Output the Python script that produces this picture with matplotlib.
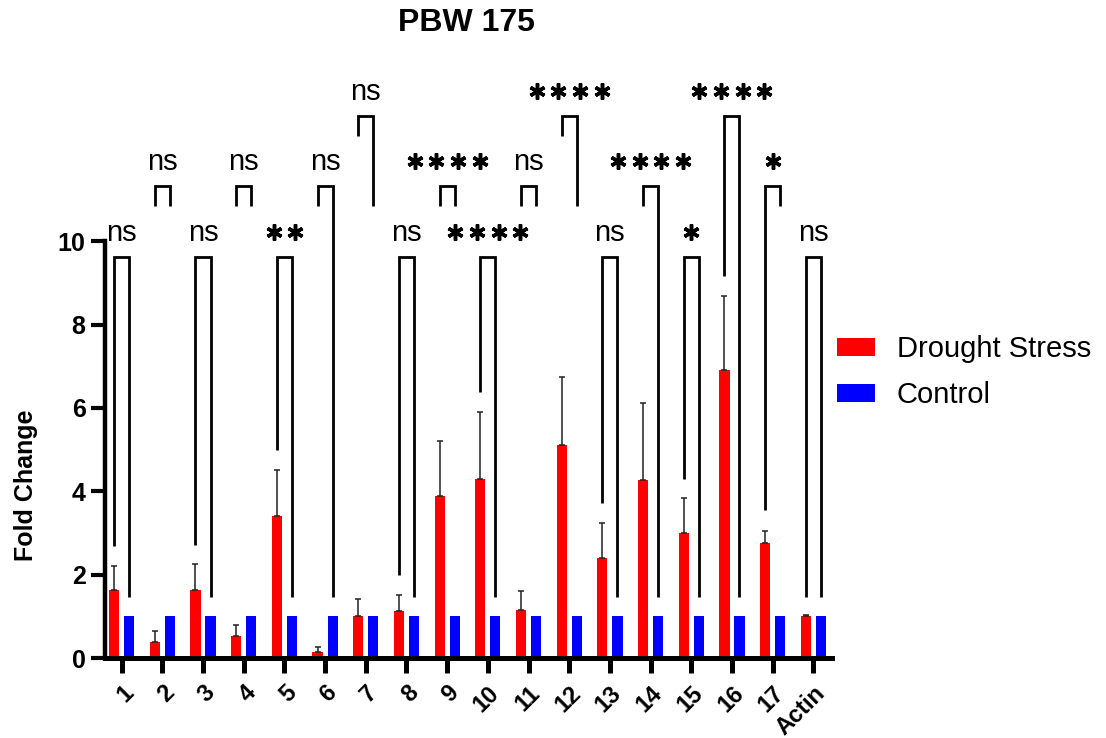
import numpy as np
import matplotlib
matplotlib.use('Agg')
import matplotlib.pyplot as plt
from matplotlib.patches import Patch

plt.rcParams['font.family'] = ['Liberation Sans', 'DejaVu Sans']

# Datos
genes = ['1', '2', '3', '4', '5', '6', '7', '8', '9', '10', '11', '12',
         '13', '14', '15', '16', '17', 'Actin']
drought = [1.62, 0.38, 1.62, 0.53, 3.40, 0.15, 1.01, 1.13, 3.89, 4.30,
           1.16, 5.11, 2.41, 4.28, 3.00, 6.92, 2.76, 1.00]
drought_err = [0.59, 0.27, 0.64, 0.25, 1.12, 0.11, 0.41, 0.38, 1.32, 1.60,
               0.44, 1.64, 0.82, 1.84, 0.83, 1.76, 0.29, 0.02]
control = [1.0] * 18

# Significancia y corchetes (altura del corchete, fin de cada pata)
signif = ['ns', 'ns', 'ns', 'ns', '**', 'ns', 'ns', 'ns', '****', '****',
          'ns', '****', 'ns', '****', '*', '****', '*', 'ns']
bracket_top = [9.62, 11.32, 9.62, 11.32, 9.62, 11.32, 13.0, 9.62, 11.32,
               9.62, 11.32, 13.0, 9.62, 11.32, 9.62, 13.0, 11.32, 9.62]
leg_left = [2.69, 10.85, 2.70, 10.85, 4.98, 10.85, 12.53, 1.98, 10.85,
            6.38, 10.85, 12.53, 3.72, 10.85, 4.30, 9.17, 3.56, 1.47]
leg_right = [1.47, 10.85, 1.47, 10.85, 1.47, 1.47, 10.85, 1.47, 10.85,
             1.47, 10.85, 10.85, 1.47, 1.47, 1.47, 1.47, 10.85, 1.47]

RED = '#FF0000'
BLUE = '#0000FF'
off = 0.185
width = 0.25

fig = plt.figure(figsize=(11.06, 7.38), dpi=100)
ax = fig.add_axes([0.0949, 0.1084, 0.6574, 0.7906])

x = np.arange(len(genes))
err_lo = np.zeros(len(genes))
ax.bar(x - off, drought, width, color=RED, linewidth=0, zorder=2)
ax.errorbar(x - off, drought, yerr=[err_lo, drought_err], fmt='none',
            ecolor='#222222', elinewidth=1.1, capsize=2.5, capthick=1.1, zorder=3)
ax.bar(x + off, control, width, color=BLUE, linewidth=0, zorder=2)

# Corchetes de comparacion
for i in range(len(genes)):
    xl, xr = x[i] - off, x[i] + off
    top = bracket_top[i]
    ax.plot([xl, xl, xr, xr], [leg_left[i], top, top, leg_right[i]],
            color='black', linewidth=2.0, solid_joinstyle='miter',
            solid_capstyle='butt', clip_on=False, zorder=4)
    xc = x[i]
    if signif[i] == 'ns':
        ax.text(xc, top + 0.38, 'ns', ha='center', va='baseline',
                fontsize=21, clip_on=False)
    else:
        n = len(signif[i])
        xs = xc + (np.arange(n) - (n - 1) / 2) * 0.533
        ax.plot(xs, [top + 0.6] * n, linestyle='none', marker=(6, 2, 0),
                markersize=11.5, markeredgewidth=2.5, color='black', clip_on=False)

ax.set_xlim(-0.41, 17.46)
ax.set_ylim(0, 14)
ax.set_yticks([0, 2, 4, 6, 8, 10])
ax.set_xticks(x)
ax.set_xticklabels(genes, rotation=45, ha='right', va='top',
                   rotation_mode='anchor', fontsize=17, fontweight='bold')
for lab in ax.get_yticklabels():
    lab.set_fontsize(18)
    lab.set_fontweight('bold')

ax.spines['top'].set_visible(False)
ax.spines['right'].set_visible(False)
ax.spines['left'].set_bounds(0, 10)
ax.spines['left'].set_linewidth(3.2)
ax.spines['bottom'].set_linewidth(3.6)
ax.tick_params(axis='y', length=10, width=3, pad=4)
ax.tick_params(axis='x', length=10.8, width=3.6, pad=6)

fig.text(466 / 1106, 1 - 23 / 738, 'PBW 175', ha='center', va='center',
         fontsize=23, fontweight='bold')
fig.text(26 / 1106, 1 - 485 / 738, 'Fold Change', ha='center', va='center',
         rotation=90, fontsize=18, fontweight='bold')

handles = [Patch(facecolor=RED, edgecolor='none', label='Drought Stress'),
           Patch(facecolor=BLUE, edgecolor='none', label='Control')]
fig.legend(handles=handles, loc='upper left',
           bbox_to_anchor=(837 / 1106, 1 - 335 / 738),
           bbox_transform=fig.transFigure, frameon=False, fontsize=21,
           borderpad=0, borderaxespad=0, handlelength=1.3, handleheight=0.58,
           handletextpad=0.75, labelspacing=0.62)

fig.savefig('out.png', dpi=100)
